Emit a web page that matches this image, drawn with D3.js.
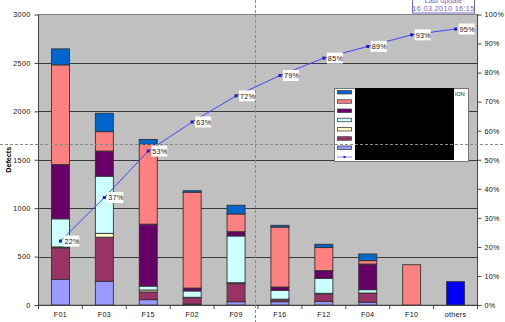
<!DOCTYPE html>
<html><head><meta charset="utf-8">
<script src="https://cdn.jsdelivr.net/npm/d3@7"></script>
<style>
html,body{margin:0;padding:0;background:#fff;}
svg{display:block;font-family:"Liberation Sans",Arial,sans-serif;}
</style></head>
<body>
<script>
const categories = ["F01","F03","F15","F02","F09","F16","F12","F04","F10","others"];
// stacked series, bottom to top
const sPeri   = [265,245,55,10,34,34,38,28,0,0];
const sPlum   = [325,455,80,65,186,21,75,96,0,0];
const sYellow = [10,40,20,5,10,5,8,0,0,0];
const sCyan   = [290,590,40,65,483,92,155,34,0,0];
const sPurple = [560,260,640,30,44,34,79,265,0,0];
const sSalmon = [1030,200,825,990,183,619,238,35,416,0];
const sBlue   = [165,190,50,15,90,18,34,69,0,0];
const sOthers = [0,0,0,0,0,0,0,0,0,241];
const cumulativePct = [22,37,53,63,72,79,85,89,93,95];
const leftTicks = [0,500,1000,1500,2000,2500,3000];
const rightTicks = [0,10,20,30,40,50,60,70,80,90,100];
const seriesColors = ["#9999FF","#993366","#FFFFCC","#CCFFFF","#660066","#FF8080","#0066CC","#0000FF"];
const seriesData = [sPeri,sPlum,sYellow,sCyan,sPurple,sSalmon,sBlue,sOthers];

const W=505,H=322;
const L=38.5,R=477.5,T=14.5,B=305;
const FS=7.2;
const svg=d3.select("body").append("svg").attr("width",W).attr("height",H);

const x=d3.scaleBand().domain(categories).range([L,R]).paddingInner(0.59).paddingOuter(0.295);
const y=d3.scaleLinear().domain([0,3000]).range([B,T]);
const y2=d3.scaleLinear().domain([0,100]).range([B,T]);

// plot area
svg.append("rect").attr("x",L).attr("y",T).attr("width",R-L).attr("height",B-T).attr("fill","#C0C0C0").attr("stroke","#808080").attr("stroke-width",1);

// gridlines
svg.append("g").selectAll("line").data(leftTicks.filter(d=>d>0&&d<3000)).join("line")
 .attr("x1",L).attr("x2",R).attr("y1",d=>Math.round(y(d))+0.5).attr("y2",d=>Math.round(y(d))+0.5)
 .attr("stroke","#3a3a3a").attr("stroke-width",1);

// stacked bars
const rows=categories.map((c,i)=>{const o={cat:c};seriesData.forEach((s,k)=>o["s"+k]=s[i]);return o;});
const stack=d3.stack().keys(seriesData.map((s,k)=>"s"+k))(rows);
const gBars=svg.append("g");
stack.forEach((layer,k)=>{
  gBars.selectAll(null).data(layer.filter(d=>d[1]-d[0]>0)).join("rect")
   .attr("x",d=>x(d.data.cat)).attr("width",x.bandwidth())
   .attr("y",d=>y(d[1])).attr("height",d=>y(d[0])-y(d[1]))
   .attr("fill",seriesColors[k]).attr("stroke","#333").attr("stroke-width",0.9);
});

// axes
const axL=d3.axisLeft(y).tickValues(leftTicks).tickSize(4).tickPadding(4).tickFormat(d3.format("d"));
const gL=svg.append("g").attr("transform",`translate(${L},0)`).call(axL);
const axR=d3.axisRight(y2).tickValues(rightTicks).tickSize(4).tickPadding(3).tickFormat(d=>d+"%");
const gR=svg.append("g").attr("transform",`translate(${R},0)`).call(axR);
const gX=svg.append("g").attr("transform",`translate(0,${B})`).call(d3.axisBottom(x).tickSize(0).tickPadding(7));
[gL,gR,gX].forEach(g=>{
  g.selectAll("text").attr("font-size",FS).attr("fill","#111").attr("font-family","'Liberation Sans',Arial,sans-serif").style("letter-spacing","0.3px");
  g.selectAll("line").attr("stroke","#444");
  g.select(".domain").attr("stroke","#444");
});
gL.select(".domain").remove();
gR.select(".domain").remove();
// category boundary ticks
const bounds=d3.range(categories.length+1).map(i=>L+i*x.step());
svg.append("g").selectAll("line").data(bounds).join("line")
 .attr("x1",d=>d).attr("x2",d=>d).attr("y1",B).attr("y2",B+4).attr("stroke","#444");

// axis lines
svg.append("line").attr("x1",L).attr("x2",L).attr("y1",T).attr("y2",B).attr("stroke","#444");
svg.append("line").attr("x1",R).attr("x2",R).attr("y1",T).attr("y2",B).attr("stroke","#444");

// title
svg.append("text").attr("transform",`translate(11,${(T+B)/2}) rotate(-90)`).attr("text-anchor","middle")
 .attr("font-size",FS).attr("font-weight","bold").text("Defects");

// pareto line
const cx=c=>x(c)+x.bandwidth()/2;
const line=d3.line().x((d,i)=>cx(categories[i])).y(d=>y2(d));
svg.append("path").datum(cumulativePct).attr("d",line).attr("fill","none").attr("stroke","#4444FF").attr("stroke-width",1);
svg.append("g").selectAll("rect").data(cumulativePct).join("rect")
 .attr("x",(d,i)=>cx(categories[i])-1.5).attr("y",d=>y2(d)-1.5).attr("width",3).attr("height",3).attr("fill","#1a1aCC");
const lab=svg.append("g").selectAll("g").data(cumulativePct).join("g")
 .attr("transform",(d,i)=>`translate(${cx(categories[i])+3},${y2(d)})`);
lab.append("rect").attr("x",0).attr("y",-5.5).attr("width",16).attr("height",11).attr("fill","#fff");
lab.append("text").attr("x",1).attr("y",2.8).attr("font-size",FS).style("letter-spacing","0.3px").attr("fill","#111").text(d=>d+"%");

// legend
const lg=svg.append("g");
lg.append("rect").attr("x",334.5).attr("y",88.5).attr("width",134).attr("height",73).attr("fill","#fff").attr("stroke","#777");
const legOrder=[6,5,4,3,2,1,0];
legOrder.forEach((k,i)=>{
  lg.append("rect").attr("x",337.5).attr("y",90.5+i*9.25).attr("width",14).attr("height",3.5)
   .attr("fill",seriesColors[k]).attr("stroke","#444").attr("stroke-width",0.8);
});
lg.append("line").attr("x1",337).attr("x2",352).attr("y1",157).attr("y2",157).attr("stroke","#8888FF");
lg.append("rect").attr("x",343.5).attr("y",156).attr("width",2).attr("height",2).attr("fill","#2222AA");
lg.append("rect").attr("x",355).attr("y",88).attr("width",99).attr("height",72).attr("fill","#000");
lg.append("text").attr("x",455).attr("y",95.5).attr("font-size",5.5).attr("fill","#222").text("ION");

// last update box
const ub=svg.append("g");
ub.append("rect").attr("x",412.5).attr("y",-6).attr("width",62).attr("height",19).attr("fill","#fff").attr("stroke","#7766BB");
ub.append("text").attr("x",443.5).attr("y",2.5).attr("text-anchor","middle").attr("font-size",FS).attr("fill","#7766BB").text("Last update");
ub.append("text").attr("x",443.5).attr("y",10.8).attr("text-anchor","middle").attr("font-size",FS).style("letter-spacing","0.4px").attr("fill","#7766BB").text("16.03.2010 16:15");

// crosshair dashed lines
svg.append("line").attr("x1",0).attr("x2",W).attr("y1",144.5).attr("y2",144.5).attr("stroke","#8a8a8a").attr("stroke-dasharray","3,2");
svg.append("line").attr("x1",255.5).attr("x2",255.5).attr("y1",0).attr("y2",H).attr("stroke","#8a8a8a").attr("stroke-dasharray","3,2");
</script>
</body></html>
